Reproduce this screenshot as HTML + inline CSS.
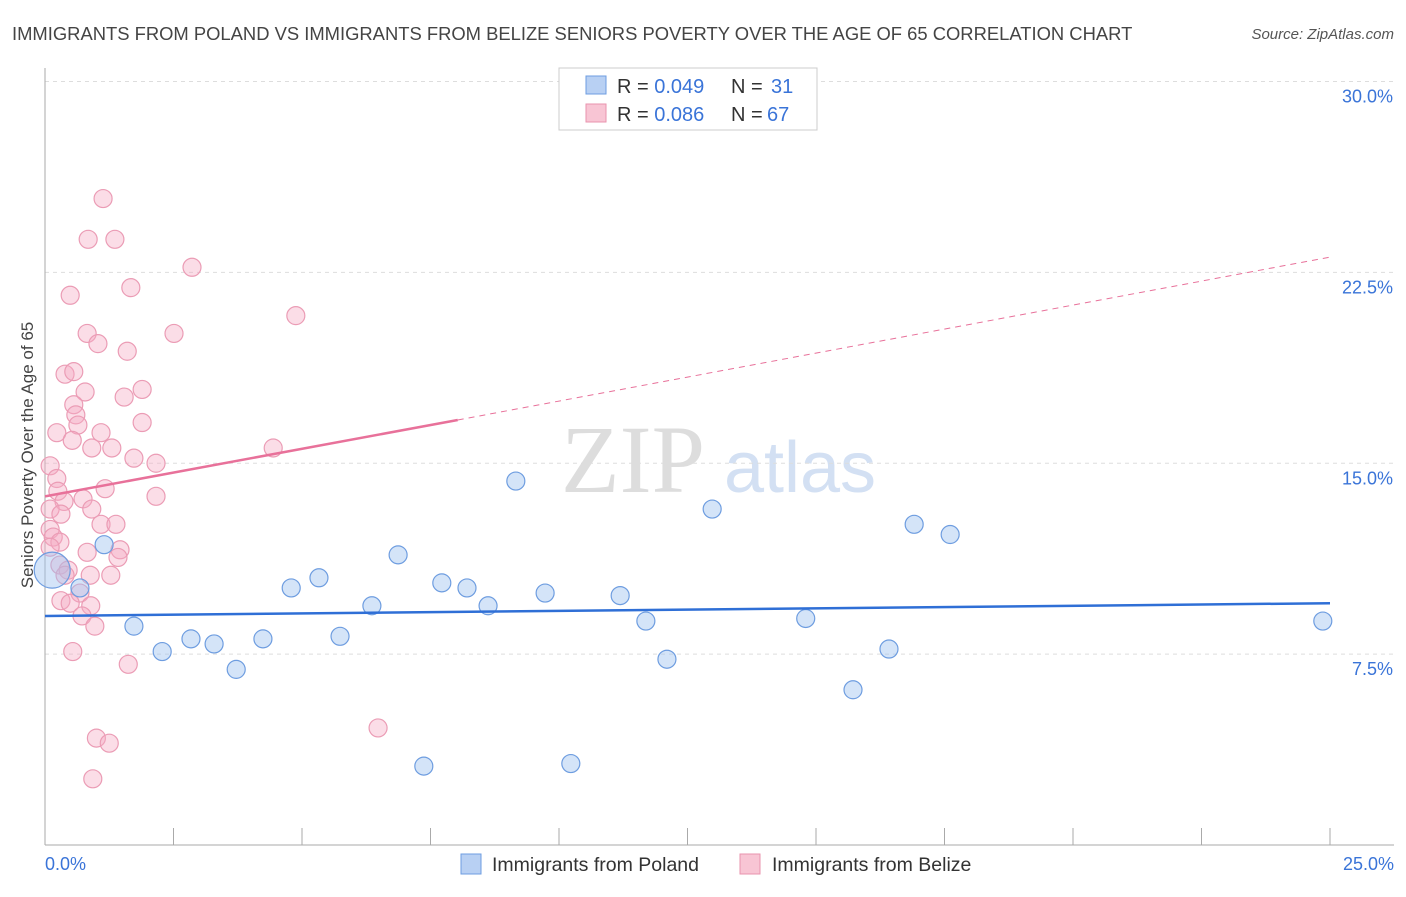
<!DOCTYPE html>
<html><head><meta charset="utf-8"><style>
body{margin:0;background:#fff;font-family:"Liberation Sans",sans-serif;}
</style></head><body>
<svg id="c" width="1406" height="892" xmlns="http://www.w3.org/2000/svg">
<text x="12" y="40" font-size="18.4" fill="#444">IMMIGRANTS FROM POLAND VS IMMIGRANTS FROM BELIZE SENIORS POVERTY OVER THE AGE OF 65 CORRELATION CHART</text>
<text x="1394" y="39" font-size="15" fill="#555" font-style="italic" text-anchor="end">Source: ZipAtlas.com</text>
<text x="33" y="455" font-size="17" fill="#444" transform="rotate(-90 33 455)" text-anchor="middle">Seniors Poverty Over the Age of 65</text>
<text x="633" y="492" font-size="96" fill="#ddd" font-family="Liberation Serif,serif" text-anchor="middle">ZIP</text>
<text x="800" y="492" font-size="72" fill="#d3e0f3" text-anchor="middle">atlas</text>
<g id="grid"></g><g id="axes"></g><g id="pts"></g><g id="lines"></g>
<g>
<rect x="559" y="68" width="258" height="62" fill="#fff" stroke="#ccc"/>
<rect x="586" y="76" width="20" height="18" fill="#b8d0f3" stroke="#6e9de0"/>
<rect x="586" y="104" width="20" height="18" fill="#f8c5d4" stroke="#e993ae"/>
<g font-size="20" fill="#333">
<text x="617" y="93">R = <tspan fill="#3a74d8">0.049</tspan></text>
<text x="731" y="93">N = </text>
<text x="771" y="93" fill="#3a74d8">31</text>
<text x="617" y="121">R = <tspan fill="#3a74d8">0.086</tspan></text>
<text x="731" y="121">N = </text>
<text x="767" y="121" fill="#3a74d8">67</text>
</g>
</g>
<g>
<rect x="461" y="854" width="20" height="20" fill="#b8d0f3" stroke="#6e9de0"/>
<text x="492" y="871" font-size="19.5" fill="#333">Immigrants from Poland</text>
<rect x="740" y="854" width="20" height="20" fill="#f8c5d4" stroke="#e993ae"/>
<text x="772" y="871" font-size="19.5" fill="#333">Immigrants from Belize</text>
</g>
</svg>
<script>
const yTicks=[7.5,15,22.5,30];
const yTickLabels=["7.5%","15.0%","22.5%","30.0%"];
const xTicks=[0,2.5,5,7.5,10,12.5,15,17.5,20,22.5,25];
const polandX=[0.14,1.15,0.68,1.73,2.28,2.84,3.29,3.72,4.24,4.79,5.33,5.74,6.36,6.87,7.37,7.72,8.21,8.62,9.73,10.23,9.16,11.19,11.69,12.1,12.98,14.8,15.72,16.42,16.91,17.61,24.86];
const polandY=[10.8,11.8,10.1,8.6,7.6,8.1,7.9,6.9,8.1,10.1,10.5,8.2,9.4,11.4,3.1,10.3,10.1,9.4,9.9,3.2,14.3,9.8,8.8,7.3,13.2,8.9,6.1,7.7,12.6,12.2,8.8];
const polandR=[18,9,9,9,9,9,9,9,9,9,9,9,9,9,9,9,9,9,9,9,9,9,9,9,9,9,9,9,9,9,9];
const belizeX=[1.13,0.84,1.36,2.86,0.49,1.67,4.88,2.51,0.82,1.03,1.6,0.39,0.56,0.78,1.89,1.54,0.56,0.6,1.89,0.64,0.23,1.09,0.53,0.91,1.3,4.44,1.73,2.16,0.1,0.23,1.17,2.16,0.25,0.74,0.37,0.91,0.1,0.31,1.09,1.38,0.1,0.16,0.29,0.1,0.82,1.46,1.42,0.29,0.45,0.39,0.88,1.28,0.68,0.31,0.49,0.89,0.72,0.97,0.54,1.62,6.48,1.0,1.25,0.93];
const belizeY=[25.4,23.8,23.8,22.7,21.6,21.9,20.8,20.1,20.1,19.7,19.4,18.5,18.6,17.8,17.9,17.6,17.3,16.9,16.6,16.5,16.2,16.2,15.9,15.6,15.6,15.6,15.2,15.0,14.9,14.4,14.0,13.7,13.9,13.6,13.5,13.2,13.2,13.0,12.6,12.6,12.4,12.1,11.9,11.7,11.5,11.6,11.3,11.0,10.8,10.6,10.6,10.6,9.9,9.6,9.5,9.4,9.0,8.6,7.6,7.1,4.6,4.2,4.0,2.6];
const X0=45,X1=1330,Y0=845,YS=25.45;
function sx(v){return X0+(X1-X0)*v/25;}
function sy(v){return Y0-YS*v;}
const NS="http://www.w3.org/2000/svg";
function mk(t,a,p){const e=document.createElementNS(NS,t);for(const k in a)e.setAttribute(k,a[k]);p.appendChild(e);return e;}
const gGrid=document.getElementById('grid'),gAxes=document.getElementById('axes'),gPts=document.getElementById('pts'),gLines=document.getElementById('lines');
yTicks.forEach((t,i)=>{
 const l=mk('line',{x1:X0,x2:1394,y1:sy(t),y2:sy(t),stroke:'#ddd','stroke-dasharray':'4,4'},gGrid);
 
 
 const tx=mk('text',{x:1393,y:sy(t)+21,'font-size':18,fill:'#3a74d8','text-anchor':'end'},gAxes);
 tx.textContent=yTickLabels[i];
 
 
});
const ya=mk('line',{x1:X0,x2:X0,y1:68,y2:845,stroke:'#aaa'},gAxes);


const xa=mk('line',{x1:X0,x2:1394,y1:845,y2:845,stroke:'#aaa'},gAxes);


xTicks.forEach(t=>{const l=mk('line',{x1:sx(t),x2:sx(t),y1:828,y2:845,stroke:'#aaa'},gAxes);
 
 });
let t0=mk('text',{x:45,y:870,'font-size':18,fill:'#3a74d8'},gAxes);t0.textContent='0.0%';


let t1=mk('text',{x:1394,y:870,'font-size':18,fill:'#3a74d8','text-anchor':'end'},gAxes);t1.textContent='25.0%';


belizeX.forEach((v,i)=>{const c=mk('circle',{cx:sx(v),cy:sy(belizeY[i]),r:9,fill:'rgba(246,170,195,0.4)',stroke:'#eb9cb5','stroke-width':1.2},gPts);
 
 });
polandX.forEach((v,i)=>{const c=mk('circle',{cx:sx(v),cy:sy(polandY[i]),r:polandR[i],fill:'rgba(160,195,240,0.45)',stroke:'#6e9de0','stroke-width':1.2},gPts);
 
 });
const bl=mk('line',{x1:sx(0),y1:sy(9.0),x2:sx(25),y2:sy(9.5),stroke:'#2f6fd6','stroke-width':2.5},gLines);


const pl=mk('line',{x1:sx(0),y1:sy(13.7),x2:sx(8.03),y2:sy(16.7),stroke:'#e8719a','stroke-width':2.5},gLines);


const pd=mk('line',{x1:sx(8.03),y1:sy(16.7),x2:sx(25),y2:sy(23.1),stroke:'#e8719a','stroke-width':1,'stroke-dasharray':'6,5'},gLines);


</script>
</body></html>
